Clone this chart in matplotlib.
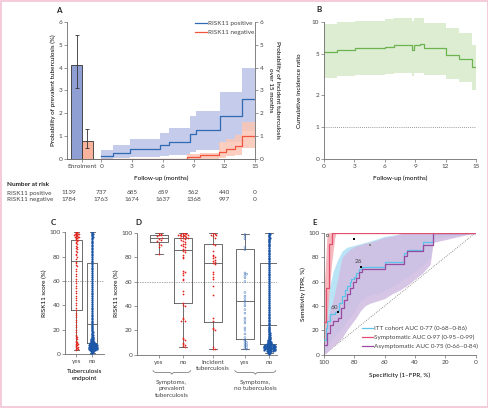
import numpy as np
import matplotlib
matplotlib.use("Agg")
import matplotlib.pyplot as plt
from matplotlib.patches import Rectangle
from matplotlib.lines import Line2D
import matplotlib.transforms as mtransforms

plt.rcParams['font.family'] = ['Lato', 'DejaVu Sans']
plt.rcParams['font.size'] = 4.6
plt.rcParams['axes.linewidth'] = 0.6
plt.rcParams['axes.edgecolor'] = '#6e6e6e'
plt.rcParams['xtick.color'] = '#6e6e6e'
plt.rcParams['ytick.color'] = '#6e6e6e'
plt.rcParams['xtick.labelcolor'] = '#444444'
plt.rcParams['ytick.labelcolor'] = '#444444'
plt.rcParams['xtick.major.size'] = 2
plt.rcParams['ytick.major.size'] = 2
plt.rcParams['xtick.major.width'] = 0.5
plt.rcParams['ytick.major.width'] = 0.5
plt.rcParams['xtick.major.pad'] = 1.5
plt.rcParams['ytick.major.pad'] = 1.2
plt.rcParams['text.color'] = '#444444'

# ---------------- data ----------------
# A: prevalent tuberculosis at enrolment
prev_groups = ['RISK11 positive', 'RISK11 negative']
prev_pct = [4.12, 0.78]
prev_lo = [3.12, 0.45]
prev_hi = [5.42, 1.30]

# A: incident tuberculosis, Kaplan-Meier style steps
pos_t = [0, 1.1, 2.8, 5.7, 6.6, 8.7, 9.2, 11.6, 13.7, 15]
pos_p = [0.13, 0.26, 0.43, 0.58, 0.72, 1.07, 1.26, 1.87, 2.62, 2.62]
pos_lo = [0.0, 0.02, 0.07, 0.11, 0.18, 0.3, 0.4, 0.75, 1.2, 1.2]
pos_hi = [0.39, 0.58, 0.86, 1.12, 1.34, 1.86, 2.1, 2.92, 4.0, 4.0]

neg_t = [0, 8.4, 9.6, 11.5, 12.2, 13.0, 13.7, 15]
neg_p = [0.0, 0.07, 0.15, 0.3, 0.42, 0.55, 1.0, 1.0]
neg_lo = [0.0, 0.0, 0.0, 0.05, 0.1, 0.18, 0.45, 0.45]
neg_hi = [0.0, 0.2, 0.27, 0.75, 0.85, 1.05, 1.6, 1.6]

risk_cols = [-3.2, 0, 3, 6, 9, 12, 15]
risk_pos = [1139, 737, 685, 659, 562, 440, 0]
risk_neg = [1784, 1763, 1674, 1637, 1368, 997, 0]

# B: cumulative incidence ratio
ratio_t = [0, 1.3, 3.1, 6.0, 6.9, 8.7, 8.9, 9.5, 9.9, 12.0, 13.3, 14.6, 15]
ratio = [5.2, 5.4, 5.6, 5.8, 6.0, 5.4, 6.0, 6.2, 5.7, 4.8, 4.4, 3.7, 3.7]
ratio_hi = [9.6, 10.0, 10.3, 10.6, 10.9, 10.2, 10.9, 11.0, 9.8, 8.7, 7.8, 6.0, 6.0]
ratio_lo = [2.95, 3.05, 3.12, 3.2, 3.25, 3.05, 3.25, 3.3, 3.1, 2.85, 2.7, 2.25, 2.25]

# C: RISK11 score by tuberculosis endpoint
c_box = {  # q1, median, q3, whisker low, whisker high
    'yes': (36, 76.5, 93.8, 3.5, 100),
    'no': (8.8, 24.3, 74.5, 0.5, 100),
}
c_yes = [100, 100, 99.5, 99.5, 99, 99, 98.5, 98.5, 98, 98, 97.5, 97, 97, 96.5, 96, 96,
         95.5, 95, 94.5, 94, 93.5, 93, 92, 91, 90, 89, 88, 87, 86, 85, 84, 82, 81, 80,
         78, 76, 75, 73, 72, 70, 68, 66, 64, 62, 60, 58, 56, 54, 52, 50, 48, 46, 44, 42,
         40, 38, 36, 34, 32, 30, 28, 26, 24, 22, 20, 18, 16, 15, 14, 13, 12, 11, 10, 9.5,
         9, 8.5, 8, 7.5, 7, 6.5, 6, 5.5, 5, 4.5, 4, 3.5]
c_no = [100, 99.6, 99, 98.3, 97.5, 96.8, 96, 95.1, 94.2, 93, 92.1, 91, 89.8, 88.7, 87.5,
        86.2, 85, 83.6, 82.3, 81, 79.5, 78.2, 76.8, 75.3, 74, 72.4, 71, 69.5, 68.1, 66.4,
        65, 63.3, 61.8, 60.2, 58.6, 57, 55.3, 53.8, 52.1, 50.5, 49, 47.4, 45.8, 44.1, 42.6,
        41, 39.5, 38, 36.6, 35.1, 33.7, 32.4, 31, 29.8, 28.5, 27.3, 26.2, 25.1, 24, 23, 22.1,
        21.2, 20.3, 19.5, 18.7, 18, 17.3, 16.6, 16, 15.4, 14.8, 14.3, 13.8, 13.3, 12.9, 12.5,
        12.1, 11.8, 11.5, 11.2, 10.9, 10.6, 10.4, 10.1, 9.9, 9.7, 9.5, 9.3, 9.1, 8.9, 8.8,
        8.6, 8.5, 8.3, 8.2, 8.1, 8, 7.9, 7.8, 7.7, 7.6, 7.5, 7.4, 7.3, 7.2, 7.1, 7, 6.9,
        6.8, 6.7, 6.6, 6.5, 6.4, 6.3, 6.2, 6.1, 6, 5.9, 5.8, 5.7, 5.6, 5.5, 5.4, 5.3, 5.2,
        5.1, 5, 4.9, 4.8, 4.7, 4.6, 4.5, 4.4, 4.3, 4.2, 4.1, 4, 3.9, 3.8, 3.6, 3.4, 3.2,
        3, 2.7, 2.4, 2.1, 1.8, 1.4, 1, 0.6]

# D: RISK11 score by symptom group
d_labels = ['yes', 'no', 'Incident\ntuberculosis', 'yes', 'no']
d_box = [
    (92.6, 95.4, 97.8, 82.5, 100),
    (42, 85.8, 95.4, 6.6, 100),
    (27, 75.4, 90.7, 4.6, 100),
    (12.6, 44, 86.9, 4.6, 98.9),
    (8.7, 24, 74.9, 1, 100),
]
d_prev_yes = [100, 99, 98.5, 98, 97, 96, 95, 94, 93, 91, 90, 88, 82.5]
d_prev_no = [100, 100, 99.5, 99.5, 99, 99, 98.5, 98.5, 98, 98, 97.5, 97, 97, 96.5, 96, 96,
             95.5, 95, 94, 93, 92, 91, 90.5, 90, 89, 88, 87, 86, 85, 84, 82, 80, 79, 69, 68,
             67, 65, 62, 61, 52, 50, 42, 41, 40, 30, 29, 28, 28, 14, 13, 12, 10, 9, 8, 7, 6.5]
d_incident = [100, 99.5, 99, 98, 98, 97, 96, 91, 90, 85, 82, 81, 80, 79, 78, 77, 76, 75, 74,
              68, 66, 64, 62, 56, 49, 30, 28, 22, 21, 20, 6, 5, 4.5]
d_symp_yes = [98.5, 97, 95, 88, 86, 67, 66, 65, 63, 60, 51, 48, 46, 44, 42, 40, 37, 34, 30,
              28, 26, 22, 20, 17, 14, 12, 11, 10, 9, 8, 7, 6, 5, 4.5]
d_symp_no = c_no

# E: ROC curves (specificity, sensitivity)
itt_spec = [100, 99, 98, 96, 93, 91, 90, 88, 86, 85, 83, 82, 80, 79, 77, 75, 60, 47, 45, 35, 28, 0]
itt_sens = [12, 22, 28, 33, 35, 37, 42, 48, 53, 56, 60, 62, 64, 67, 70, 72, 76, 83, 86, 92, 100, 100]
asym_spec = [100, 98, 96, 94, 91, 89, 87, 85, 83, 81, 79, 77, 75, 60, 47, 45, 35, 28, 0]
asym_sens = [8, 18, 24, 28, 30, 38, 45, 50, 55, 60, 63, 68, 70, 74, 81, 85, 90, 100, 100]
sym_spec = [100, 98.6, 96.5, 95, 0]
sym_sens = [27, 55, 91, 100, 100]

band_spec = [100, 97, 94, 91, 88, 85, 82, 79, 76, 73, 70, 65, 60, 55, 50, 45, 40, 35, 30, 28, 0]
itt_hi = [30, 52, 68, 78, 85, 88, 89, 90, 91, 92, 93, 95, 97, 98, 99, 100, 100, 100, 100, 100, 100]
itt_lo = [0, 8, 14, 18, 22, 28, 32, 38, 44, 47, 49, 50, 52, 56, 60, 64, 68, 73, 80, 95, 100]
asym_hi = [20, 33, 45, 62, 80, 84, 87, 89, 90, 91.5, 92, 94, 96, 97, 99, 100, 100, 100, 100, 100, 100]
asym_lo = [0, 3, 7, 10, 14, 20, 25, 30, 36, 40, 42, 44, 46, 50, 53, 57, 62, 67, 74, 92, 100]
sym_band_spec = [100, 99, 98, 97, 96, 95, 94, 93, 92, 0]
sym_hi = [55, 75, 100, 100, 100, 100, 100, 100, 100, 100]
sym_lo = [5, 15, 30, 45, 60, 75, 85, 95, 100, 100]

thr_spec = [98, 80.5, 70, 75.5, 91]
thr_sens = [98.5, 95, 90, 72, 35]
thr_text = ['', '', '', '26', '60']
auc_labels = ['ITT cohort AUC 0·77 (0·68–0·86)',
              'Symptomatic AUC 0·97 (0·95–0·99)',
              'Asymptomatic AUC 0·75 (0·66–0·84)']

# ---------------- colours ----------------
blue_line, blue_band, blue_bar = '#2f6ab3', '#c4cbeb', '#8f9fd4'
red_line, red_band, red_bar = '#f0563f', '#fcc6b4', '#f7b39c'
green_line, green_band = '#6db350', '#ddedd2'
itt_col, itt_band = '#5cc3e8', '#b9e4f5'
sym_col, sym_band = '#e24f6e', '#f5b1b6'
asym_col, asym_band = '#994c9f', '#d1bbe2'
pt_red, pt_blue = '#e5231d', '#1c56a6'

W, H = 489, 408
fig = plt.figure(figsize=(W / 100, H / 100), dpi=100)


def box(l, t, r, b):
    return [l / W, 1 - b / H, (r - l) / W, (b - t) / H]


def swarm(vals, binw, dx, maxoff):
    # deterministic beeswarm offsets
    offs, counts = [], {}
    for v in vals:
        b = int(v // binw)
        k = counts.get(b, 0)
        counts[b] = k + 1
        o = ((k + 1) // 2) * dx * (1 if k % 2 else -1)
        if abs(o) > maxoff:
            o = np.sign(o) * ((abs(o) / maxoff) % 1) * maxoff
        offs.append(o)
    return np.array(offs)


def tidy(ax):
    for s in ['top', 'right']:
        ax.spines[s].set_visible(False)


def letter(x, y, s):
    fig.text(x / W, 1 - y / H, s, fontsize=5.8, fontweight='bold', color='#222222',
             ha='left', va='top')


# ================= A =================
axA = fig.add_axes(box(67, 22, 255, 158.7))
tidy(axA)
bar_x = [-2.4, -1.36]
axA.fill_between(pos_t, pos_lo, pos_hi, step='post', color=blue_band, lw=0)
axA.fill_between(neg_t, neg_lo, neg_hi, step='post', color=red_band, lw=0, alpha=0.85)
axA.step(pos_t, pos_p, where='post', color=blue_line, lw=0.9)
axA.step(neg_t, neg_p, where='post', color=red_line, lw=0.9)
axA.bar(bar_x, prev_pct, width=1.05, color=[blue_bar, red_bar], edgecolor='#333333', lw=0.6)
axA.errorbar(bar_x, prev_pct,
             yerr=[np.array(prev_pct) - np.array(prev_lo), np.array(prev_hi) - np.array(prev_pct)],
             fmt='none', ecolor='#333333', elinewidth=0.6, capsize=1.6, capthick=0.6)
axA.set_xlim(-3.35, 15)
axA.set_ylim(0, 6)
axA.set_yticks(range(7))
axA.set_xticks([-1.85, 0, 3, 6, 9, 12, 15], ['Enrolment', '0', '3', '6', '9', '12', '15'])
axA.set_ylabel('Probability of prevalent tuberculosis (%)', labelpad=2)
axA.set_xlabel('Follow-up (months)')
axA.xaxis.set_label_coords(0.5, -0.12)
axR = axA.twinx()
axR.spines['top'].set_visible(False)
axR.spines['left'].set_visible(False)
axR.set_ylim(0, 6)
axR.set_yticks(range(7))
axR.set_ylabel('Probability of incident tuberculosis\nover 15 months', rotation=270,
               labelpad=12, linespacing=1.4)
for lab, col, yy in [('RISK11 positive', blue_line, 0.99), ('RISK11 negative', red_line, 0.925)]:
    axA.add_line(Line2D([0.68, 0.745], [yy, yy], color=col, lw=0.9, transform=axA.transAxes))
    axA.text(0.75, yy, lab, transform=axA.transAxes, va='center', ha='left')
letter(56, 7, 'A')

# number at risk table
tr = mtransforms.blended_transform_factory(axA.transData, fig.transFigure)
fig.text(7 / W, 1 - 185 / H, 'Number at risk', fontweight='bold', va='center', color='#222222')
fig.text(7 / W, 1 - 193 / H, 'RISK11 positive', va='center')
fig.text(7 / W, 1 - 199.5 / H, 'RISK11 negative', va='center')
for x, a, b in zip(risk_cols, risk_pos, risk_neg):
    axA.text(x, 1 - 193 / H, str(a), transform=tr, ha='center', va='center')
    axA.text(x, 1 - 199.5 / H, str(b), transform=tr, ha='center', va='center')

# ================= B =================
axB = fig.add_axes(box(323.7, 22, 476, 158.7))
tidy(axB)
axB.set_yscale('log')
axB.fill_between(ratio_t, ratio_lo, ratio_hi, step='post', color=green_band, lw=0, clip_on=False)
axB.step(ratio_t, ratio, where='post', color=green_line, lw=0.9)
axB.axhline(1, color='#777777', lw=0.6, ls=(0, (1, 1.5)))
axB.set_ylim(0.5, 10)
axB.set_xlim(0, 15)
axB.set_yticks([0.5, 1, 2, 5, 10], ['0', '1', '2', '5', '10'])
axB.yaxis.set_minor_locator(matplotlib.ticker.NullLocator())
axB.set_xticks([0, 3, 6, 9, 12, 15])
axB.set_xlabel('Follow-up (months)')
axB.xaxis.set_label_coords(0.5, -0.12)
axB.set_ylabel('Cumulative incidence ratio', labelpad=7)
letter(316, 6, 'B')


def draw_box(ax, pos, stats, width):
    q1, med, q3, lo, hi = stats
    ax.bxp([{'q1': q1, 'med': med, 'q3': q3, 'whislo': lo, 'whishi': hi, 'fliers': []}],
           positions=[pos], widths=width, showfliers=False, manage_ticks=False,
           boxprops=dict(color='#555555', lw=0.6), medianprops=dict(color='#555555', lw=0.6),
           whiskerprops=dict(color='#555555', lw=0.6), capprops=dict(color='#555555', lw=0.6))


# ================= C =================
axC = fig.add_axes(box(65, 232.3, 104, 354))
tidy(axC)
axC.axhline(60, color='#888888', lw=0.5, ls=(0, (2, 1.5)), zorder=0)
draw_box(axC, 1, c_box['yes'], 0.67)
draw_box(axC, 2, c_box['no'], 0.67)
axC.scatter(1 + swarm(c_yes, 2.0, 0.06, 0.22), c_yes, s=1.4, color=pt_red, lw=0, zorder=3)
axC.scatter(2 + swarm(c_no, 1.0, 0.055, 0.33), c_no, s=2.6, color=pt_blue, lw=0, zorder=3)
axC.plot([2, 2], [0.5, 100], color=pt_blue, lw=0.9, zorder=2)
axC.set_xlim(0.27, 2.75)
axC.set_ylim(0, 100)
axC.set_yticks(range(0, 101, 20))
axC.set_xticks([1, 2], ['yes', 'no'])
axC.set_xlabel('Tuberculosis\nendpoint', labelpad=4, linespacing=1.4)
axC.set_ylabel('RISK11 score (%)', labelpad=2)
letter(51, 219, 'C')

# ================= D =================
axD = fig.add_axes(box(137, 232.7, 277, 354.7))
tidy(axD)
d_pos = [1, 2, 3.25, 4.58, 5.58]
axD.axhline(60, color='#888888', lw=0.5, ls=(0, (2, 1.5)), zorder=0)
for p, st in zip(d_pos, d_box):
    draw_box(axD, p, st, 0.72)
axD.scatter(d_pos[0] + swarm(d_prev_yes, 3, 0.07, 0.22), d_prev_yes, s=1.6, color=pt_red, lw=0, zorder=3)
axD.scatter(d_pos[1] + swarm(d_prev_no, 2, 0.07, 0.25), d_prev_no, s=1.6, color=pt_red, lw=0, zorder=3)
axD.scatter(d_pos[2] + swarm(d_incident, 2, 0.07, 0.25), d_incident, s=1.6, color=pt_red, lw=0, zorder=3)
axD.scatter(d_pos[3] + swarm(d_symp_yes, 2, 0.07, 0.2), d_symp_yes, s=1.8, facecolor='none',
            edgecolor='#4b7cc0', lw=0.35, zorder=3)
axD.scatter(d_pos[4] + swarm(d_symp_no, 1.0, 0.05, 0.3), d_symp_no, s=2.8, color=pt_blue, lw=0, zorder=3)
axD.plot([d_pos[4]] * 2, [0.5, 100], color=pt_blue, lw=1.0, zorder=2)
axD.set_xlim(0.083, 5.917)
axD.set_ylim(0, 100)
axD.set_yticks(range(0, 101, 20))
axD.set_xticks(d_pos, d_labels, linespacing=1.3)
axD.set_ylabel('RISK11 score (%)', labelpad=2)
letter(135, 219, 'D')

trD = mtransforms.blended_transform_factory(axD.transData, axD.transAxes)


def brace(ax, x0, x1, y, h, trans):
    xs = np.linspace(x0, x1, 201)
    half = xs[:101]
    beta = 60.0 / (x1 - x0)
    yh = 1 / (1 + np.exp(-beta * (half - half[0]))) + 1 / (1 + np.exp(-beta * (half - half[-1])))
    yy = np.concatenate((yh, yh[-2::-1]))
    ax.plot(xs, y - (yy - 0.5) * h, color='#666666', lw=0.5, transform=trans, clip_on=False)


brace(axD, 0.75, 2.32, -0.13, 0.03, trD)
brace(axD, 4.16, 5.87, -0.13, 0.03, trD)
axD.text(1.53, -0.205, 'Symptoms,\nprevalent\ntuberculosis', transform=trD, ha='center', va='top',
         linespacing=1.35)
axD.text(5.03, -0.205, 'Symptoms,\nno tuberculosis', transform=trD, ha='center', va='top',
         linespacing=1.35)

# ================= E =================
axE = fig.add_axes(box(324, 232.7, 475.7, 354.7))
tidy(axE)
axE.plot([100, 0], [0, 100], color='#777777', lw=0.6, ls=(0, (1, 1.5)), zorder=0)
axE.fill_between(band_spec, itt_lo, itt_hi, color=itt_band, lw=0, zorder=1)
axE.fill_between(band_spec, asym_lo, asym_hi, color=asym_band, lw=0, alpha=0.85, zorder=1)
axE.fill_between(sym_band_spec, sym_lo, sym_hi, color=sym_band, lw=0, alpha=0.9, zorder=1)
axE.step(itt_spec, itt_sens, where='post', color=itt_col, lw=0.9, zorder=3)
axE.step(asym_spec, asym_sens, where='post', color=asym_col, lw=0.9, zorder=3)
axE.step(sym_spec, sym_sens, where='post', color=sym_col, lw=0.9, zorder=3)
for xs_, ys_, t_ in zip(thr_spec, thr_sens, thr_text):
    if xs_ > 97:
        axE.scatter(xs_, ys_, marker='s', s=3, facecolor='white', edgecolor='#333333', lw=0.4, zorder=4)
    elif xs_ == 70:
        axE.scatter(xs_, ys_, marker='s', s=2.5, color='#888888', lw=0, zorder=4)
    else:
        axE.scatter(xs_, ys_, marker='s', s=3, color='black', lw=0, zorder=4)
    if t_:
        axE.text(xs_ + 2, ys_ + 2, t_, ha='center', va='bottom', zorder=5)
axE.set_xlim(100, 0)
axE.set_ylim(0, 100)
axE.set_xticks(range(100, -1, -20))
axE.set_yticks(range(0, 101, 20))
axE.set_xlabel('Specificity (1–FPR, %)', labelpad=6)
axE.set_ylabel('Sensitivity (TPR, %)', labelpad=2)
for lab, col, yy in zip(auc_labels, [itt_col, sym_col, asym_col], [0.217, 0.143, 0.071]):
    axE.add_line(Line2D([0.248, 0.321], [yy, yy], color=col, lw=0.9, transform=axE.transAxes))
    axE.text(0.327, yy, lab, transform=axE.transAxes, va='center', ha='left')
letter(312, 219, 'E')

# thin pink frame around the figure
fig.add_artist(Rectangle((0.002, 0.002), 0.996, 0.996, transform=fig.transFigure, fill=False,
                         edgecolor='#f2c2d5', lw=1.2))

fig.savefig('out.png', dpi=100)
